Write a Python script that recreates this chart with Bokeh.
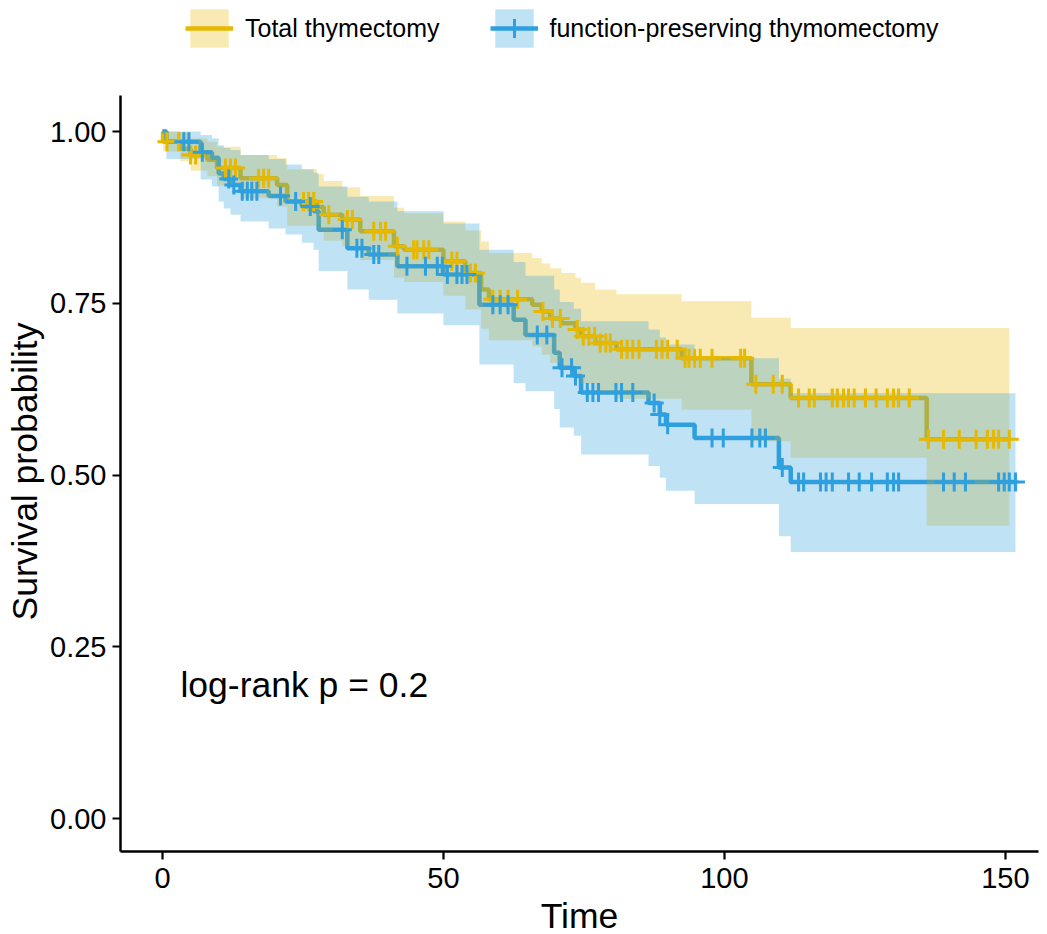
import numpy as np
from bokeh.plotting import figure
from bokeh.models import Range1d, FixedTicker, Legend, LegendItem, NumeralTickFormatter, Title
from bokeh.core.properties import value
from bokeh.embed import file_html
from bokeh.resources import INLINE

# ---------------- data ----------------
group_labels = ["Total thymectomy", "function-preserving thymomectomy"]
group_colors = ["#E7B800", "#2E9FDF"]
pval_text = "log-rank p = 0.2"
x_title = "Time"
y_title = "Survival probability"

total_time = [0, 0.1, 3.2, 5.0, 8.0, 9.7, 13.9, 20.4, 22.2, 27.5, 28.7, 32.0, 35.2, 41.2, 43.0, 50.0,
              53.9, 56.7, 58.1, 65.8, 67.5, 69.0, 71.0, 73.5, 74.5, 77.0, 80.8, 92.4, 104.8, 111.8, 136.0]
total_surv = [1.0, 0.985, 0.975, 0.966, 0.959, 0.947, 0.932, 0.922, 0.898, 0.890, 0.879, 0.872, 0.855,
              0.833, 0.828, 0.811, 0.794, 0.770, 0.756, 0.748, 0.738, 0.728, 0.721, 0.712, 0.702, 0.692,
              0.683, 0.670, 0.632, 0.612, 0.552]
total_upper = [1.0, 1.0, 0.999, 0.99, 0.985, 0.978, 0.966, 0.961, 0.945, 0.938, 0.928, 0.919, 0.906,
               0.889, 0.881, 0.869, 0.856, 0.840, 0.823, 0.816, 0.808, 0.801, 0.794, 0.787, 0.780, 0.770,
               0.763, 0.753, 0.729, 0.714, 0.714]
total_lower = [1.0, 0.971, 0.957, 0.943, 0.935, 0.921, 0.903, 0.891, 0.863, 0.854, 0.841, 0.833, 0.813,
               0.787, 0.781, 0.761, 0.741, 0.713, 0.696, 0.687, 0.675, 0.663, 0.655, 0.645, 0.633, 0.621,
               0.611, 0.595, 0.549, 0.525, 0.426]
total_end = 150.7
total_censor = [0.8, 2.9, 5.0, 5.9, 11.2, 12.1, 13.0, 17.1, 18.0, 18.9, 25.1, 26.0, 26.9, 29.6, 32.9,
                33.8, 37.6, 38.8, 39.7, 41.8, 44.7, 45.3, 46.5, 47.4, 51.5, 52.4, 54.8, 55.7, 58.8, 60.1,
                61.5, 63.2, 67.7, 69.4, 70.8, 73.8, 74.9, 75.9, 76.9, 77.9, 78.9, 79.7, 81.7, 82.7, 83.7,
                84.8, 87.9, 88.9, 89.9, 91.6, 93.0, 93.7, 94.7, 95.7, 97.8, 102.9, 103.6, 105.6, 108.7,
                110.3, 113.2, 115.1, 116.0, 119.2, 120.1, 121.2, 122.1, 123.1, 125.1, 127.0, 129.0,
                130.1, 131.0, 132.9, 136.3, 139.0, 141.8, 144.8, 146.8, 147.9, 148.8, 150.7]

fp_time = [0, 0.7, 6.8, 8.8, 10.0, 10.9, 12.1, 13.9, 18.9, 21.9, 24.8, 26.9, 27.8, 32.9, 36.7, 41.8,
           50.0, 56.4, 62.5, 64.6, 69.7, 70.7, 73.2, 74.5, 86.5, 88.5, 89.6, 94.7, 109.7, 111.8]
fp_surv = [1.0, 0.985, 0.970, 0.962, 0.939, 0.931, 0.922, 0.913, 0.906, 0.898, 0.891, 0.884, 0.857,
           0.830, 0.821, 0.804, 0.792, 0.748, 0.726, 0.704, 0.678, 0.656, 0.644, 0.620, 0.605, 0.588,
           0.573, 0.554, 0.511, 0.490]
fp_upper = [1.0, 1.0, 0.995, 0.990, 0.980, 0.976, 0.973, 0.966, 0.960, 0.952, 0.945, 0.940, 0.920,
            0.905, 0.898, 0.884, 0.866, 0.828, 0.810, 0.790, 0.770, 0.752, 0.742, 0.724, 0.712, 0.700,
            0.690, 0.670, 0.640, 0.619]
fp_lower = [1.0, 0.960, 0.930, 0.920, 0.898, 0.888, 0.879, 0.869, 0.859, 0.850, 0.838, 0.828, 0.797,
            0.770, 0.755, 0.735, 0.718, 0.661, 0.634, 0.622, 0.596, 0.569, 0.557, 0.530, 0.513, 0.496,
            0.477, 0.458, 0.411, 0.388]
fp_end = 151.8
fp_censor = [3.8, 4.7, 7.1, 11.8, 12.7, 14.2, 15.1, 15.9, 16.8, 21.0, 23.7, 26.3, 32.0, 34.6, 35.5,
             37.6, 38.5, 43.5, 46.8, 48.9, 49.8, 50.7, 52.4, 53.3, 54.2, 58.8, 60.1, 61.5, 66.7, 68.4,
             71.1, 72.8, 73.5, 75.6, 76.6, 77.6, 80.7, 81.7, 83.7, 87.5, 88.5, 89.9, 97.8, 99.8, 104.9,
             106.3, 107.3, 110.3, 113.2, 114.1, 117.1, 118.1, 119.2, 122.1, 124.0, 126.2, 129.0, 130.1,
             131.0, 139.0, 140.9, 142.9, 148.8, 149.8, 150.7, 151.8]

x_ticks = [0, 50, 100, 150]
y_ticks = [0.0, 0.25, 0.5, 0.75, 1.0]
y_axis_bounds = (-0.048, 1.052)

FONT = "Liberation Sans"

# ---------------- figure ----------------
# the frame reaches the top of the canvas so that the legend (drawn inside it) is not clipped;
# the y axis line is limited to the panel's real extent with Axis.bounds
p = figure(output_backend="svg", toolbar_location=None,
           frame_width=918, frame_height=851,
           min_border_left=120, min_border_right=1, min_border_top=0, min_border_bottom=80,
           x_range=Range1d(-7.47, 155.9), y_range=Range1d(-0.048, -0.048 + 851 / 687.0))
p.outline_line_color = None
p.xgrid.visible = False
p.ygrid.visible = False
p.background_fill_color = "white"
p.border_fill_color = "white"

groups = [
    (total_time, total_surv, total_upper, total_lower, total_end, total_censor),
    (fp_time, fp_surv, fp_upper, fp_lower, fp_end, fp_censor),
]

line_r, band_r, mark_r = [], [], []
# lines first
for (t, s, u, l, end, cen), col in zip(groups, group_colors):
    xs = list(t) + [end]
    ys = list(s) + [s[-1]]
    line_r.append(p.step(xs, ys, mode="after", line_color=col, line_width=4.5))
# bands over the lines
for (t, s, u, l, end, cen), col in zip(groups, group_colors):
    xs = list(t) + [end]
    band_r.append(p.varea_step(x=xs, y1=list(l) + [l[-1]], y2=list(u) + [u[-1]], step_mode="after",
                               fill_color=col, fill_alpha=0.3))
# censor marks
for (t, s, u, l, end, cen), col in zip(groups, group_colors):
    idx = np.searchsorted(np.array(t), np.array(cen), side="right") - 1
    cy = np.array(s)[idx]
    mark_r.append(p.scatter(cen, cy, marker="cross", size=19, line_width=3, line_color=col))

p.text(x=[3.2], y=[0.195], text=[pval_text], text_font=value(FONT), text_font_size="35.5px",
       text_baseline="middle", text_align="left", text_color="black")

# axes
for ax in (p.xaxis[0], p.yaxis[0]):
    ax.axis_line_width = 2.5
    ax.axis_line_color = "black"
    ax.major_tick_line_width = 2.2
    ax.major_tick_line_color = "black"
    ax.major_tick_out = 8
    ax.major_tick_in = 0
    ax.minor_tick_line_color = None
    ax.major_label_text_font = FONT
    ax.major_label_text_color = "black"
    ax.major_label_text_font_size = "29px"
    ax.axis_label_text_font = FONT
    ax.axis_label_text_font_style = "normal"
    ax.axis_label_text_color = "black"
    ax.axis_label_text_font_size = "35.5px"

p.xaxis.ticker = FixedTicker(ticks=x_ticks)
p.yaxis.ticker = FixedTicker(ticks=y_ticks)
p.yaxis.bounds = y_axis_bounds
p.yaxis.formatter = NumeralTickFormatter(format="0.00")
p.xaxis.axis_label = x_title
p.xaxis.major_label_standoff = 8
p.yaxis.major_label_standoff = 6
p.xaxis.axis_label_standoff = 5

# y title as a left-side Title, anchored at the bottom and lifted so that it is centred
# on the panel's real extent (not on the taller frame)
ytitle = Title(text=y_title, align="left", offset=231, standoff=5,
               text_font=FONT, text_font_size="35.5px", text_font_style="normal",
               text_color="black")
p.add_layout(ytitle, "left")

legend = Legend(items=[
    LegendItem(label=group_labels[0], renderers=[band_r[0], line_r[0]]),
    LegendItem(label=group_labels[1], renderers=[band_r[1], line_r[1], mark_r[1]]),
], orientation="horizontal", location=(65, 799), glyph_width=48, glyph_height=48,
    label_text_font=FONT, label_text_font_size="25px", label_text_color="black",
    label_standoff=12, spacing=50,
    padding=0, margin=0, border_line_color=None, background_fill_alpha=0)
p.add_layout(legend, "center")

open("out.html", "w").write(file_html(p, INLINE))
